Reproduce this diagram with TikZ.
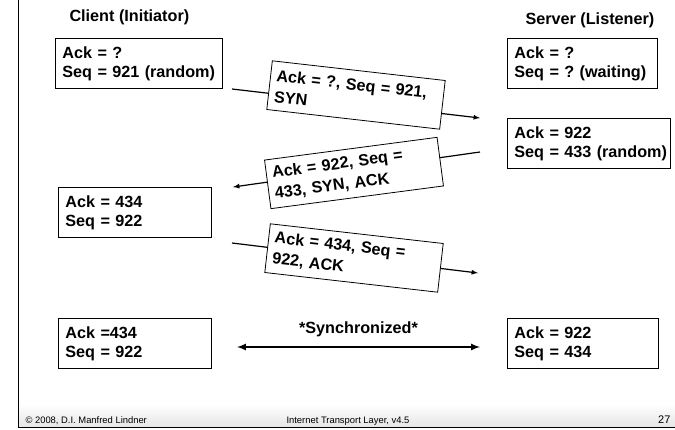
\documentclass[tikz,border=0pt]{standalone}
\usepackage{fontspec}
\setmainfont{Liberation Sans}
\frenchspacing
\tikzset{
	statebox/.style={draw, line width=0.8pt, anchor=north west, align=left, inner xsep=7pt,
		text width=#1, minimum height=50pt, font=\bfseries\fontsize{16.2}{19}\selectfont},
	msgbox/.style={draw, line width=0.8pt, fill=white, align=left, inner xsep=6pt,
		text width=162pt, minimum height=49pt, font=\bfseries\fontsize{16.2}{21}\selectfont},
	headline/.style={anchor=base west, font=\bfseries\fontsize{16.2}{19}\selectfont},
	footline/.style={anchor=base, font=\fontsize{9.4}{11}\selectfont}
}

\begin{document}
\begin{tikzpicture}[x=1pt, y=-1pt]
			\useasboundingbox (0,0) rectangle (675,429);
			\shade[top color=white, bottom color=black!10] (18,404) rectangle (675,427);
			\draw[line width=1pt] (18,0) -- (18,427.5) -- (675,427.5);
			\node[footline, anchor=base west] (copy) at (22,423) {\textcopyright{} 2008, D.I. Manfred Lindner};
			\node[footline] (title) at (348,423) {Internet Transport Layer, v4.5};
			\node[footline, anchor=base east, font=\fontsize{11}{13}\selectfont] (page) at (674,423) {27};
			\node[headline] (client) at (66,21) {Client (Initiator)};
			\node[headline] (server) at (522,24) {Server (Listener)};
			\node[statebox=153pt] (c1) at (55,38) {Ack = ?\\\mbox{Seq = 921 (random)}};
			\node[statebox=136pt] (s1) at (507,38) {Ack = ?\\\mbox{Seq = ? (waiting)}};
			\node[statebox=149pt] (s2) at (507,118) {Ack = 922\\\mbox{Seq = 433 (random)}};
			\node[statebox=139pt] (c2) at (58,187) {Ack = 434\\Seq = 922};
			\node[statebox=139pt] (c3) at (58,318) {Ack =434\\Seq = 922};
			\node[statebox=137pt] (s3) at (507,318) {Ack = 922\\Seq = 434};
			\coordinate (syn out) at (232,89);
			\coordinate (syn in) at (480,118);
			\coordinate (synack out) at (480,152);
			\coordinate (synack in) at (233,187);
			\coordinate (ack out) at (232,243);
			\coordinate (ack in) at (478,273);
			\coordinate (sync l) at (237,347);
			\coordinate (sync r) at (480,347);
			\draw[-latex, line width=1.2pt] (syn out) -- (syn in);
			\draw[-latex, line width=1.2pt] (synack out) -- (synack in);
			\draw[-latex, line width=1.2pt] (ack out) -- (ack in);
			\draw[latex-latex, line width=2pt] (sync l) -- (sync r)
				node[midway, above=6pt, font=\bfseries\fontsize{16.2}{19}\selectfont] (sync){*Synchronized*};
			\node[msgbox, rotate=-6.5] (syn) at (356,95) {Ack = ?, Seq = 921,\\SYN};
			\node[msgbox, rotate=7.5] (synack) at (354,173) {Ack = 922, Seq =\\433, SYN, ACK};
			\node[msgbox, rotate=-6.5] (ack) at (354,258) {Ack = 434, Seq =\\922, ACK};
		\end{tikzpicture}
\end{document}
